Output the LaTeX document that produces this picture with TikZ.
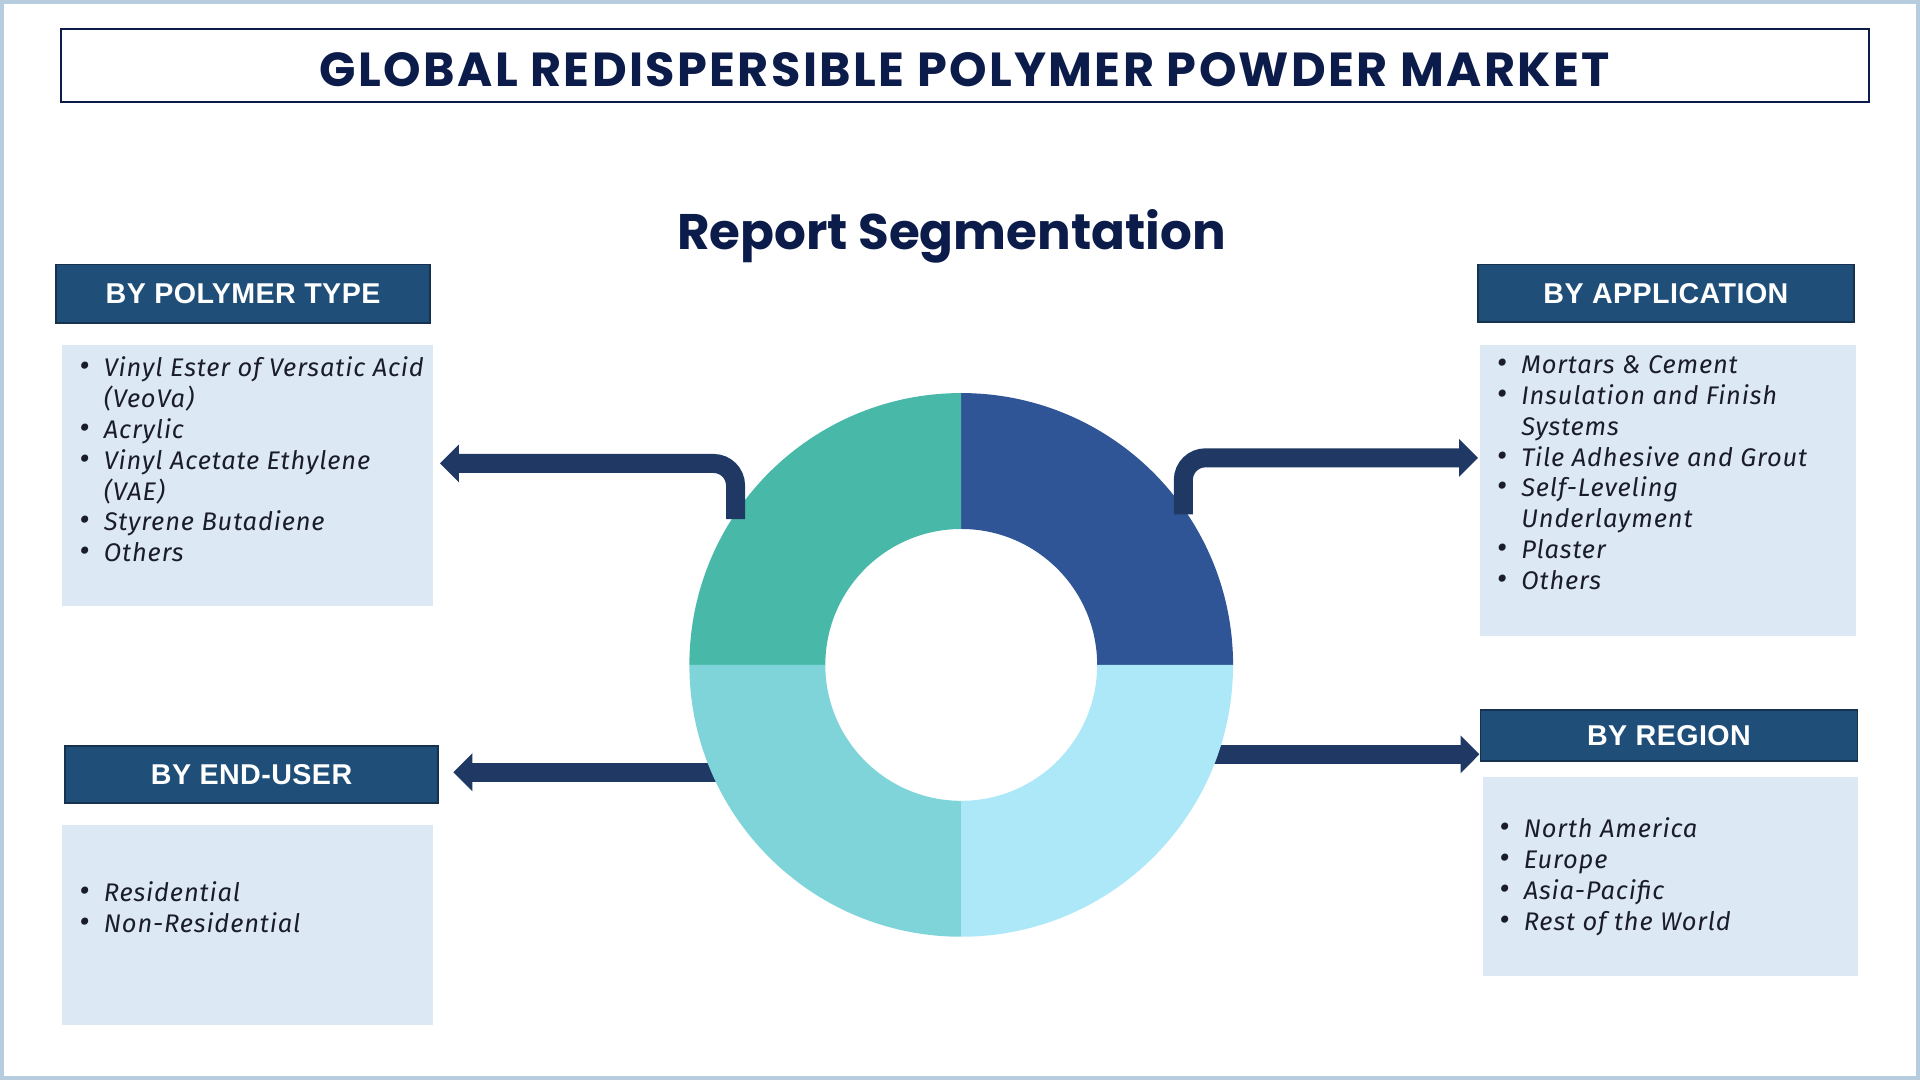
\documentclass[tikz,border=0pt]{standalone}
\usepackage{fontspec}
\setmainfont{Fira Sans}
\newfontfamily\titlefont[LetterSpace=5]{Poppins}
\newfontfamily\subfont{Poppins}
\newfontfamily\boxfont[LetterSpace=1.5]{Liberation Sans}
\newfontfamily\itemfont[LetterSpace=3.4]{Fira Sans}
\usetikzlibrary{arrows.meta}

\definecolor{navy}{HTML}{0C1C4A}
\definecolor{framecol}{HTML}{B8CCE0}
\definecolor{headfill}{HTML}{1F4E79}
\definecolor{headline}{HTML}{17324F}
\definecolor{listfill}{HTML}{DDE8F5}
\definecolor{pipecol}{HTML}{1F3864}
\definecolor{itemcol}{HTML}{1A1C2A}
\definecolor{segA}{HTML}{2F5597}
\definecolor{segB}{HTML}{48B9A8}
\definecolor{segC}{HTML}{7FD4DA}
\definecolor{segD}{HTML}{ADE8F9}

\newcommand{\bul}{\makebox[10pt][l]{{\fontsize{13}{13}\selectfont\textbullet}}}
\newcommand{\ind}{\hspace*{10pt}}

\begin{document}
\begin{tikzpicture}[x=0.5pt,y=-0.5pt]
  \tikzstyle{headbox}=[draw=headline,line width=0.75pt,fill=headfill,text=white,font=\boxfont\bfseries\fontsize{11.7}{13}\selectfont,minimum width=152.5pt,minimum height=24pt,inner sep=0pt]
  \tikzstyle{listbox}=[fill=listfill,anchor=north west,inner sep=0pt]
  \tikzstyle{items}=[anchor=base west,inner sep=0pt,text=itemcol,font=\itemfont\itshape\fontsize{10.4}{12.6}\selectfont]
  \tikzstyle{pipe}=[draw=pipecol,line width=7.75pt,-{Triangle[length=7.75pt,width=15pt]},rounded corners=9pt]

  \useasboundingbox (0,0) rectangle (1568,882);
  \draw[framecol,line width=1.5pt] (1.5,1.5) rectangle (1566.5,880.5);

  % titles
  \node[draw=navy,line width=0.75pt,minimum width=738pt,minimum height=29.5pt,inner sep=0pt,text height=17pt,text depth=0pt,text=navy,font=\titlefont\bfseries\fontsize{19.5}{21}\selectfont] (title) at (788,53.5) {GLOBAL REDISPERSIBLE POLYMER POWDER MARKET};
  \node[anchor=base,inner sep=0pt,text=navy,font=\subfont\bfseries\fontsize{20.4}{22}\selectfont] (subtitle) at (777,204) {Report Segmentation};

  % headers
  \node[headbox] (polyhead) at (198.5,240) {BY POLYMER TYPE};
  \node[headbox,minimum width=153.5pt,minimum height=23.5pt] (apphead) at (1360.5,239.5) {BY APPLICATION};
  \node[headbox,minimum height=23.5pt] (userhead) at (205.5,632.5) {BY END-USER};
  \node[headbox,minimum width=154pt,minimum height=21pt] (regionhead) at (1363,600.5) {BY REGION};

  % list boxes
  \node[listbox,minimum width=151.6pt,minimum height=106.6pt] (polybox) at (50.4,281.7) {};
  \node[listbox,minimum width=153.5pt,minimum height=119pt] (appbox) at (1208,281) {};
  \node[listbox,minimum width=151.6pt,minimum height=81.3pt] (userbox) at (50.4,673.7) {};
  \node[listbox,minimum width=153.2pt,minimum height=81.4pt] (regionbox) at (1210.5,634) {};

  \node[items] (polytext) at (64.4,307.6) {\begin{tabular}[t]{@{}l@{}}
    \bul Vinyl Ester of Versatic Acid\\ \ind (VeoVa)\\ \bul Acrylic\\
    \bul Vinyl Acetate Ethylene\\ \ind (VAE)\\ \bul Styrene Butadiene\\ \bul Others
  \end{tabular}};
  \node[items] (apptext) at (1222,305) {\begin{tabular}[t]{@{}l@{}}
    \bul Mortars \& Cement\\ \bul Insulation and Finish\\ \ind Systems\\
    \bul Tile Adhesive and Grout\\ \bul Self-Leveling\\ \ind Underlayment\\
    \bul Plaster\\ \bul Others
  \end{tabular}};
  \node[items] (usertext) at (64.4,736) {\begin{tabular}[t]{@{}l@{}}
    \bul Residential\\ \bul Non-Residential
  \end{tabular}};
  \node[items] (regiontext) at (1224,684) {\begin{tabular}[t]{@{}l@{}}
    \bul North America\\ \bul Europe\\ \bul Asia-Pacific\\ \bul Rest of the World
  \end{tabular}};

  % straight arrows (behind the ring)
  \coordinate (sE) at (605,630.6);
  \coordinate (eE) at (370.2,630.6);
  \coordinate (sR) at (970,616);
  \draw[pipe] (sE) -- (eE);
  \draw[pipe] (sR) -- (regionhead.west |- sR);

  % ring
  \coordinate (c) at (785,543);
  \foreach \a/\col in {-90/segA,180/segB,90/segC,0/segD}
    \fill[\col,shift={(c)}] (\a:222) arc[start angle=\a,end angle=\a+90,radius=222]
      -- (\a+90:111) arc[start angle=\a+90,end angle=\a,radius=111] -- cycle;

  % bent arrows
  \coordinate (sP) at (600.7,424);
  \coordinate (eP) at (359.3,378.5);
  \coordinate (sA) at (966.4,420);
  \coordinate (eA) at (1207,373.9);
  \draw[pipe] (sP) |- (eP);
  \draw[pipe] (sA) |- (eA);
\end{tikzpicture}
\end{document}
